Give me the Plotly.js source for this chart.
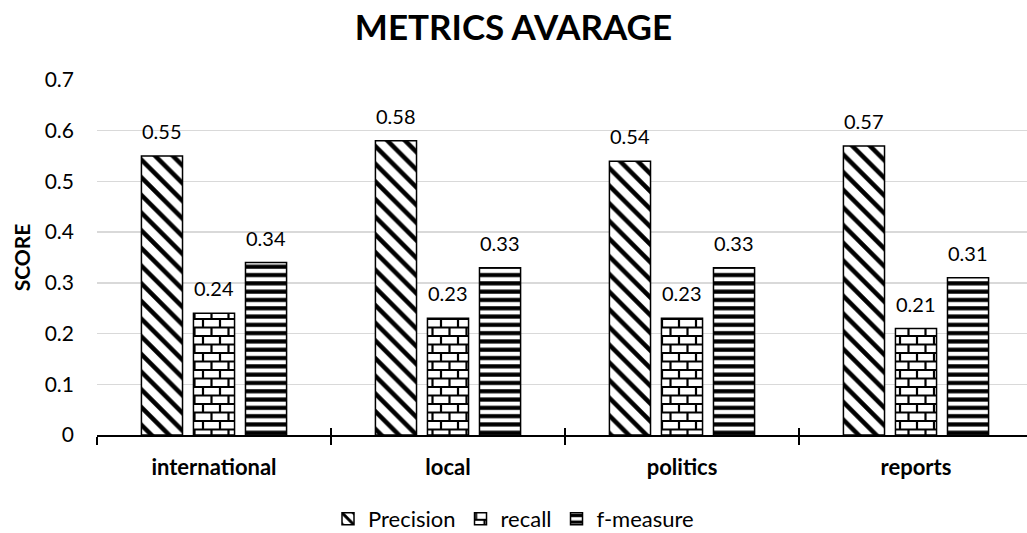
<!DOCTYPE html>
<html>
<head>
<meta charset="utf-8">
<script src="https://cdn.plot.ly/plotly-3.0.1.min.js"></script>
<style>
  html, body { margin: 0; padding: 0; background: #fff; }
  #chart { width: 1027px; height: 533px; }
</style>
</head>
<body>
<div id="chart"></div>
<script>
// Average scores per news category
const categories = ['international', 'local', 'politics', 'reports'];
const precision = [0.55, 0.58, 0.54, 0.57];
const recall = [0.24, 0.23, 0.23, 0.21];
const fMeasure = [0.34, 0.33, 0.33, 0.31];
const seriesNames = ['Precision', 'recall', 'f-measure'];
const yTicks = [0, 0.1, 0.2, 0.3, 0.4, 0.5, 0.6, 0.7];

const FONT = 'Lato, "Open Sans", sans-serif';
const series = [precision, recall, fMeasure];
const shapes = ['\\', '', '-'];
const sizes = [12.5, 8, 8.3];
const solid = [0.36, 0.3, 0.5];

const traces = series.map((vals, i) => ({
  type: 'bar',
  name: seriesNames[i],
  x: categories,
  y: vals,
  marker: {
    color: '#ffffff',
    line: { color: '#000000', width: 1.5 },
    pattern: { shape: shapes[i], size: sizes[i], solidity: solid[i], fgcolor: '#000000', bgcolor: '#ffffff' }
  },
  hoverinfo: 'x+y'
}));

// helper axis carrying the inward half of the category boundary ticks
traces.push({
  type: 'scatter', mode: 'markers', x: categories, y: categories.map(() => null),
  xaxis: 'x2', showlegend: false, hoverinfo: 'skip'
});

const plotWidth = 930;
const unit = 234;                       // px per category
const xMax = -0.5 + plotWidth / unit;
const bargap = 0.333;
const slot = unit * (1 - bargap) / 3;

const annotations = [];
series.forEach((vals, i) => {
  vals.forEach((v, j) => {
    annotations.push({
      x: categories[j], y: v, xref: 'x', yref: 'y',
      text: v.toFixed(2), showarrow: false,
      xshift: (i - 1) * slot, yshift: 25, yanchor: 'middle',
      font: { family: FONT, size: 20, color: '#000' }
    });
  });
});

const layout = {
  width: 1027, height: 533,
  margin: { l: 97, r: 0, t: 80, b: 98, pad: 0 },
  paper_bgcolor: '#fff', plot_bgcolor: '#fff',
  font: { family: FONT, color: '#000', size: 20 },
  title: {
    text: '<b>METRICS AVARAGE</b>',
    font: { family: FONT, size: 35, color: '#000' },
    x: 0.5, xref: 'container', xanchor: 'center',
    y: 1 - 28 / 533, yref: 'container', yanchor: 'middle'
  },
  barmode: 'group', bargap: bargap, bargroupgap: 0.21,
  xaxis: {
    type: 'category', range: [-0.5, xMax],
    showline: true, linecolor: '#000', linewidth: 2,
    ticks: 'outside', tickson: 'boundaries', ticklen: 8, tickwidth: 1.5, tickcolor: '#000',
    showgrid: false, zeroline: false,
    tickfont: { family: FONT, size: 22, color: '#000', weight: 'bold' },
    ticklabelstandoff: 12,
    fixedrange: true
  },
  xaxis2: {
    type: 'category', overlaying: 'x', anchor: 'y', side: 'bottom', range: [-0.5, xMax],
    ticks: 'inside', tickson: 'boundaries', ticklen: 7, tickwidth: 1.5, tickcolor: '#000',
    showticklabels: false, showgrid: false, showline: false, zeroline: false,
    fixedrange: true
  },
  yaxis: {
    range: [0, 0.7], tickvals: yTicks, ticktext: yTicks.map(String),
    showgrid: true, gridcolor: '#d9d9d9', gridwidth: 1.5,
    showline: false, zeroline: false, ticks: '',
    tickfont: { family: FONT, size: 21, color: '#000' },
    ticklabelstandoff: 22,
    title: { text: '<b>SCORE</b>', font: { family: FONT, size: 21, color: '#000' }, standoff: 8 },
    fixedrange: true
  },
  legend: {
    orientation: 'h', xref: 'container', yref: 'container',
    x: 0.5, xanchor: 'center', y: 1 - 519 / 533, yanchor: 'middle',
    font: { family: FONT, size: 22, color: '#000' },
    itemwidth: 30, traceorder: 'normal'
  },
  annotations: annotations,
  showlegend: true
};

const gd = document.getElementById('chart');
Plotly.newPlot(gd, traces, layout, { displayModeBar: false, staticPlot: true }).then(() => {
  // brick fill for the recall bars and their legend swatch
  const NS = 'http://www.w3.org/2000/svg';
  const defs = gd.querySelector('svg.main-svg defs');
  const pat = document.createElementNS(NS, 'pattern');
  pat.setAttribute('id', 'brick-fill');
  pat.setAttribute('patternUnits', 'userSpaceOnUse');
  pat.setAttribute('width', '17');
  pat.setAttribute('height', '17');
  const bg = document.createElementNS(NS, 'rect');
  bg.setAttribute('width', '17'); bg.setAttribute('height', '17'); bg.setAttribute('fill', '#fff');
  pat.appendChild(bg);
  const mortar = document.createElementNS(NS, 'path');
  mortar.setAttribute('d', 'M0,1H17M0,9.5H17M4,1V9.5M12.5,9.5V17');
  mortar.setAttribute('stroke', '#000');
  mortar.setAttribute('stroke-width', '2.2');
  mortar.setAttribute('fill', 'none');
  pat.appendChild(mortar);
  defs.appendChild(pat);

  const barTraces = gd.querySelectorAll('.barlayer .trace');
  if (barTraces[1]) {
    barTraces[1].querySelectorAll('path').forEach(p => { p.style.fill = 'url(#brick-fill)'; });
  }
  const legTraces = gd.querySelectorAll('.legend .traces');
  if (legTraces[1]) {
    legTraces[1].querySelectorAll('.legendpoints path').forEach(p => { p.style.fill = 'url(#brick-fill)'; });
  }
});
</script>
</body>
</html>
